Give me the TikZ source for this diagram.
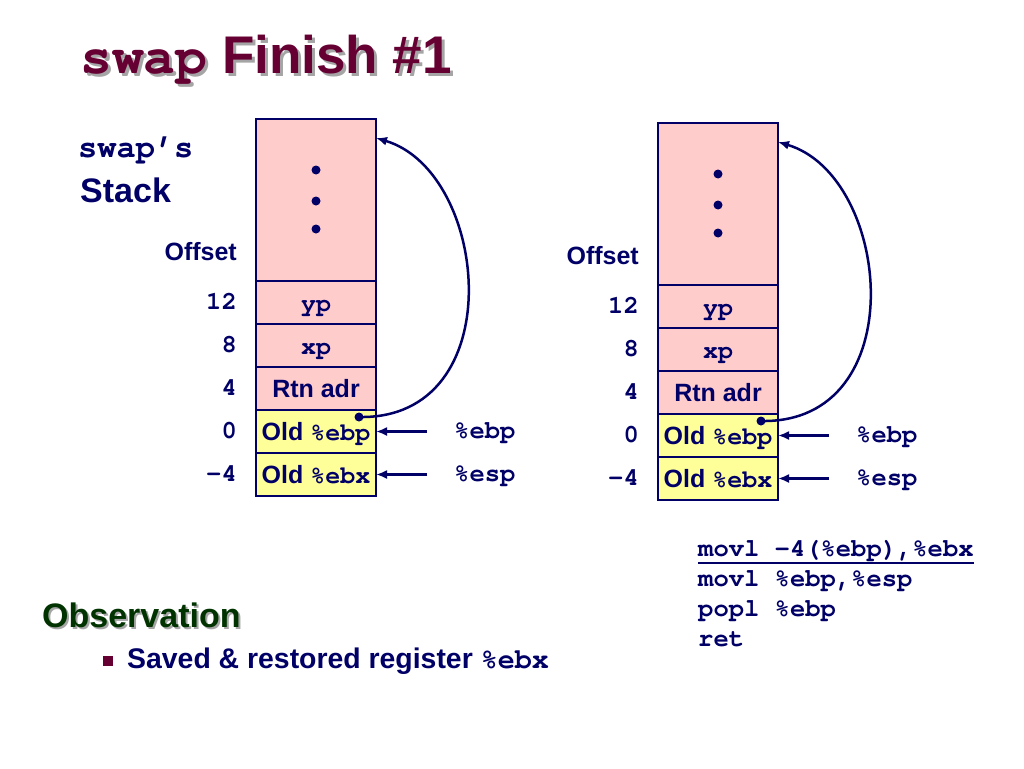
\documentclass[tikz,border=0pt]{standalone}
\usepackage{fontspec}
\setmainfont{Liberation Sans}
\setmonofont{TeX Gyre Cursor}
\usetikzlibrary{positioning,arrows.meta}

\definecolor{navy}{RGB}{0,0,102}
\definecolor{cellpink}{RGB}{255,204,204}
\definecolor{cellyellow}{RGB}{255,255,153}
\definecolor{maroon}{RGB}{102,0,51}
\definecolor{darkgreen}{RGB}{0,51,0}
\definecolor{shadowgray}{RGB}{165,165,165}

\tikzstyle{cell} = [draw=navy,line width=2.5pt,minimum width=120pt,minimum height=43pt,inner sep=0pt,outer sep=0pt,text height=22pt,text depth=4pt,text=navy,font=\fontsize{25}{30}\selectfont\bfseries]
\tikzstyle{pinkcell} = [cell,fill=cellpink]
\tikzstyle{yellowcell} = [cell,fill=cellyellow]
\tikzstyle{num} = [inner sep=0pt,text height=19pt,text depth=5pt,text=navy,font=\fontsize{25.5}{30}\selectfont\ttfamily\bfseries]
\tikzstyle{lbl} = [inner sep=0pt,text=navy,font=\fontsize{25}{30}\selectfont\bfseries]
\tikzstyle{arr} = [draw=navy,line width=2.5pt,-{Latex[length=11pt,width=9pt]}]

\begin{document}
\begin{tikzpicture}[x=1pt,y=-1pt]
		\useasboundingbox (0,0) rectangle (1024,768);
		% title
		\node[inner sep=0pt,anchor=base west,text=shadowgray,font=\fontsize{53}{60}\selectfont\bfseries] (titleshadow) at (83,76) {{\ttfamily swap} Finish \#1};
		\node[inner sep=0pt,anchor=base west,text=maroon,font=\fontsize{53}{60}\selectfont\bfseries] (title) at (80,73) {{\ttfamily swap} Finish \#1};
		\node[lbl,anchor=west,font=\fontsize{32}{36}\selectfont\ttfamily\bfseries] (stackname) at (78,150) {swap’s};
		\node[lbl,anchor=west,font=\fontsize{34}{38}\selectfont\bfseries] (stacklabel) at (80,190) {Stack};
		% left stack
		\node[pinkcell,minimum height=162pt] (ltop) at (316,200) {};
		\node[pinkcell,below=0pt of ltop] (lyp) {\ttfamily yp};
		\node[pinkcell,below=0pt of lyp] (lxp) {\ttfamily xp};
		\node[pinkcell,below=0pt of lxp] (lrtn) {Rtn adr};
		\node[yellowcell,below=0pt of lrtn] (lebp) {Old {\ttfamily\%ebp}};
		\node[yellowcell,below=0pt of lebp] (lebx) {Old {\ttfamily\%ebx}};
		\fill[navy] (316,170) circle (4.5);
		\fill[navy] (316,201) circle (4.5);
		\fill[navy] (316,229) circle (4.5);
		\node[lbl,anchor=east] (loffset) at (237,252) {Offset};
		\node[num,left=19pt of lyp] (l12) {12};
		\node[num,left=19pt of lxp] (l8) {8};
		\node[num,left=19pt of lrtn] (l4) {4};
		\node[num,left=19pt of lebp] (l0) {0};
		\node[num,left=19pt of lebx] (lm4) {-4};
		\node[num,right=78pt of lebp] (lebpreg) {\%ebp};
		\node[num,right=78pt of lebx] (lespreg) {\%esp};
		\draw[arr] ([xshift=51pt]lebp.east) -- (lebp.east);
		\draw[arr] ([xshift=51pt]lebx.east) -- (lebx.east);
		\coordinate (lsrc) at ([xshift=-17pt,yshift=-7pt]lebp.north east);
		\coordinate (ltopin) at ([yshift=62pt]ltop.east);
		\fill[navy] (lsrc) circle (4.5);
		\draw[arr] (lsrc) .. controls (512,420) and (490,172) .. (ltopin);
		% right stack
		\node[pinkcell,minimum height=162pt] (rtop) at (718,204) {};
		\node[pinkcell,below=0pt of rtop] (ryp) {\ttfamily yp};
		\node[pinkcell,below=0pt of ryp] (rxp) {\ttfamily xp};
		\node[pinkcell,below=0pt of rxp] (rrtn) {Rtn adr};
		\node[yellowcell,below=0pt of rrtn] (rebp) {Old {\ttfamily\%ebp}};
		\node[yellowcell,below=0pt of rebp] (rebx) {Old {\ttfamily\%ebx}};
		\fill[navy] (718,174) circle (4.5);
		\fill[navy] (718,205) circle (4.5);
		\fill[navy] (718,233) circle (4.5);
		\node[lbl,anchor=east] (roffset) at (639,256) {Offset};
		\node[num,left=19pt of ryp] (r12) {12};
		\node[num,left=19pt of rxp] (r8) {8};
		\node[num,left=19pt of rrtn] (r4) {4};
		\node[num,left=19pt of rebp] (r0) {0};
		\node[num,left=19pt of rebx] (rm4) {-4};
		\node[num,right=78pt of rebp] (rebpreg) {\%ebp};
		\node[num,right=78pt of rebx] (respreg) {\%esp};
		\draw[arr] ([xshift=51pt]rebp.east) -- (rebp.east);
		\draw[arr] ([xshift=51pt]rebx.east) -- (rebx.east);
		\coordinate (rsrc) at ([xshift=-17pt,yshift=-7pt]rebp.north east);
		\coordinate (rtopin) at ([yshift=62pt]rtop.east);
		\fill[navy] (rsrc) circle (4.5);
		\draw[arr] (rsrc) .. controls (914,424) and (892,176) .. (rtopin);
		% code
		\node[num,anchor=west] (code1) at (698,549) {movl -4(\%ebp),\%ebx};
		\node[num,anchor=west] (code2) at (698,579) {movl \%ebp,\%esp};
		\node[num,anchor=west] (code3) at (698,609) {popl \%ebp};
		\node[num,anchor=west] (code4) at (698,639) {ret};
		\draw[navy,line width=2pt] ([yshift=-2pt]code1.south west) -- ([yshift=-2pt]code1.south east);
		% observation
		\node[inner sep=0pt,anchor=west,text=shadowgray,font=\fontsize{34}{38}\selectfont\bfseries] (obsshadow) at (44,617) {Observation};
		\node[inner sep=0pt,anchor=west,text=darkgreen,font=\fontsize{34}{38}\selectfont\bfseries] (obs) at (42,615) {Observation};
		\fill[maroon] (103,656) rectangle (113,666);
		\node[lbl,anchor=west,font=\fontsize{28.4}{32}\selectfont\bfseries] (saved) at (127,661) {Saved \& restored register {\ttfamily\%ebx}};
\end{tikzpicture}
\end{document}
